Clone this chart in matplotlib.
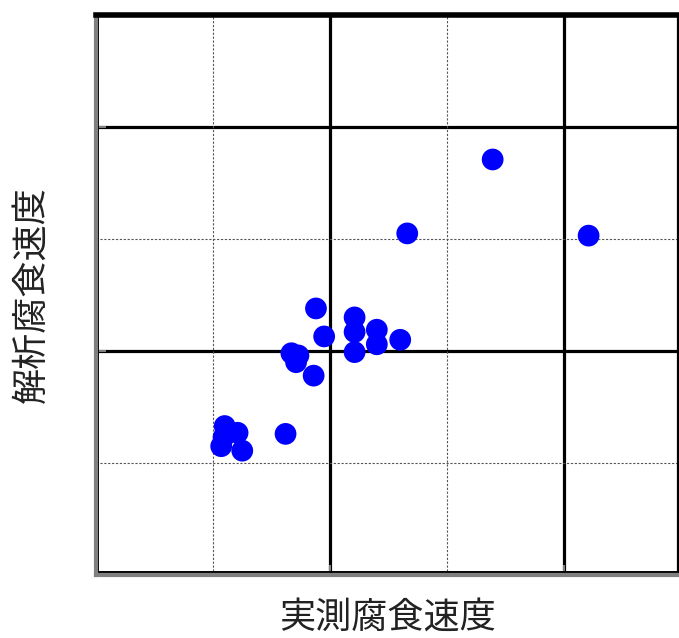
import matplotlib
matplotlib.use("Agg")
import matplotlib.pyplot as plt

plt.rcParams['font.family'] = ['Noto Sans CJK JP', 'DejaVu Sans']

# measured vs. analysed corrosion rate
measured = [3.39, 2.66, 4.21, 1.88, 2.21, 1.95, 2.21, 2.40, 2.60, 2.40, 2.21,
            1.67, 1.73, 1.71, 1.86, 1.10, 1.21, 1.62, 1.07, 1.25, 1.09]
analysed = [3.71, 3.05, 3.03, 2.38, 2.30, 2.13, 2.17, 2.19, 2.10, 2.06, 1.99,
            1.98, 1.96, 1.90, 1.78, 1.33, 1.27, 1.26, 1.15, 1.11, 1.23]

x_label = "実測腐食速度"
y_label = "解析腐食速度"

major_ticks = [2, 4]
minor_ticks = [1, 3]

fig = plt.figure(figsize=(6.79, 6.38), dpi=100)
ax = fig.add_axes([96 / 679, (638 - 575) / 638, (678 - 96) / 679, (575 - 15) / 638])

ax.set_xlim(0, 4.974)
ax.set_ylim(0, 5)

# grid: solid black at major positions, fine dashes at minor positions
for v in major_ticks:
    ax.axvline(v, color='black', lw=2.3, zorder=1)
    ax.axhline(v, color='black', lw=2.3, zorder=1)
for v in minor_ticks:
    ax.axvline(v, color='#555555', lw=0.8, ls=(0, (2, 1.5)), zorder=1)
    ax.axhline(v, color='#555555', lw=0.8, ls=(0, (2, 1.5)), zorder=1)

ax.scatter(measured, analysed, s=245, color='#0000FF', edgecolors='none', zorder=3)

ax.set_xticks(major_ticks)
ax.set_yticks(major_ticks)
ax.set_xticklabels([])
ax.set_yticklabels([])
ax.tick_params(direction='in', length=7, width=1.5, color='#808080', zorder=4)

# frame: grey left/bottom with a black inner edge, heavy black top
for side in ('left', 'bottom'):
    ax.spines[side].set_color('#808080')
    ax.spines[side].set_linewidth(3.0)
ax.spines['top'].set_color('black')
ax.spines['top'].set_linewidth(4.0)
ax.spines['right'].set_color('black')
ax.spines['right'].set_linewidth(1.6)
ax.axvline(0.02, color='black', lw=1.4, zorder=2)
ax.axhline(0.03, color='black', lw=1.4, zorder=2)

ax.set_xlabel(x_label, fontsize=26, labelpad=14, color='#222222')
ax.set_ylabel(y_label, fontsize=26, labelpad=30, color='#222222')

fig.savefig("out.png", dpi=100)
